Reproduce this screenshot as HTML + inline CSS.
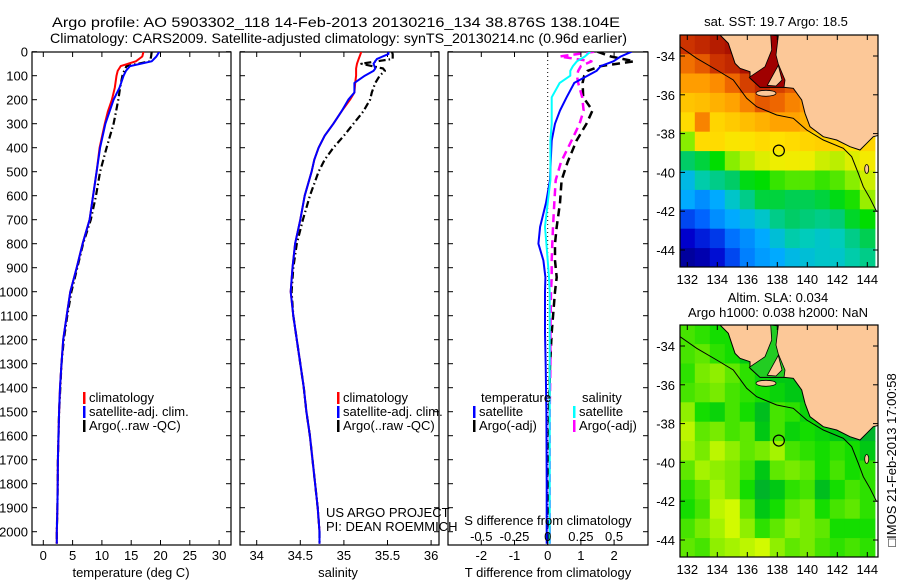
<!DOCTYPE html>
<html><head><meta charset="utf-8"><style>
html,body{margin:0;padding:0;background:#fff;}
svg{display:block;font-family:"Liberation Sans",sans-serif;}
</style></head><body>
<svg id="fig" width="900" height="580" viewBox="0 0 900 580" xmlns="http://www.w3.org/2000/svg">
<defs>
<clipPath id="clipT"><rect x="680" y="35" width="198" height="232"/></clipPath>
<clipPath id="clipB"><rect x="680" y="325" width="198" height="232"/></clipPath>
<clipPath id="clipP1"><rect x="32" y="52" width="199" height="493"/></clipPath>
<clipPath id="clipP2"><rect x="240" y="52" width="199" height="493"/></clipPath>
<clipPath id="clipP3"><rect x="448" y="52" width="200" height="493"/></clipPath>
</defs>
<text x="52" y="27" font-size="14" textLength="568" lengthAdjust="spacingAndGlyphs">Argo profile: AO 5903302_118 14-Feb-2013 20130216_134 38.876S 138.104E</text>
<text x="50" y="43" font-size="14" textLength="577" lengthAdjust="spacingAndGlyphs">Climatology: CARS2009. Satellite-adjusted climatology: synTS_20130214.nc (0.96d earlier)</text>
<g id="g"></g>
</svg>
<script>
// ---------- Profile data ----------
const tDepth = [0,20,40,60,80,100,150,200,250,300,400,500,600,700,800,900,1000,1100,1200,1300,1400,1500,1600,1700,1800,1900,2000,2050];
const tClim  = [17.1,16.9,15.8,13.2,12.7,12.5,12.2,11.7,11.0,10.5,9.6,9.1,8.5,7.9,6.7,5.7,4.6,4.0,3.4,3.1,2.85,2.7,2.6,2.5,2.45,2.4,2.3,2.3];
const tSat   = [19.8,19.3,18.5,14.8,14.1,13.7,13.0,12.0,11.3,10.6,9.7,9.1,8.5,7.9,6.7,5.7,4.6,4.0,3.4,3.1,2.85,2.7,2.6,2.5,2.45,2.4,2.3,2.3];
const tArgo  = [18.5,18.4,18.2,14.2,13.8,13.5,13.1,12.8,12.4,12.0,10.8,9.7,9.0,8.1,6.8,5.8,4.8,4.1,3.5,3.1,2.9,2.7,2.6,2.5,2.45,2.4,2.3,2.3];
const sDepth = [0,10,30,50,70,80,100,130,170,200,250,300,350,400,450,500,600,700,800,900,1000,1100,1200,1300,1400,1500,1600,1700,1800,1900,2000,2050];
const sClim  = [35.20,35.19,35.17,35.15,35.14,35.14,35.14,35.13,35.12,35.07,34.97,34.88,34.78,34.71,34.66,34.63,34.55,34.50,34.44,34.41,34.39,34.42,34.46,34.50,34.54,34.57,34.61,34.64,34.67,34.70,34.72,34.72];
const sSat   = [35.51,35.51,35.38,35.34,35.36,35.34,35.24,35.12,35.12,35.05,34.97,34.88,34.78,34.71,34.66,34.63,34.55,34.50,34.44,34.41,34.39,34.42,34.46,34.50,34.54,34.57,34.61,34.64,34.67,34.70,34.72,34.72];
const sArgo  = [35.55,35.56,35.56,35.20,35.45,35.47,35.41,35.36,35.32,35.30,35.22,35.11,35.00,34.88,34.78,34.71,34.61,34.53,34.46,34.42,34.40,34.42,34.46,34.50,34.54,34.57,34.61,34.64,34.67,34.70,34.72,34.72];
// differences
const dDepth = [0,20,40,60,80,100,130,190,245,300,370,460,535,630,730,800,870,940,1000,1170,1310,1500,1800,2050];
const dTSat  = [2.53,2.2,1.98,1.6,1.47,1.2,0.8,0.57,0.37,0.22,0.12,0.09,0.07,-0.05,-0.23,-0.28,-0.13,-0.07,-0.08,-0.08,-0.06,-0.04,-0.03,-0.03];
const dTArgo = [1.5,1.9,2.6,1.6,1.2,1.1,1.05,1.07,1.35,1.17,0.87,0.6,0.42,0.37,0.27,0.22,0.22,0.27,0.22,0.12,0.07,0.04,0.03,0.02];
const dSSat  = [0.32,0.28,0.22,0.19,0.17,0.17,0.09,0.03,0.03,0.03,0.02,0.02,0.02,0.0,-0.02,-0.01,0.0,0.01,0.015,0.015,0.015,0.015,0.015,0.015];
const dSArgo = [0.35,0.09,0.33,0.25,0.23,0.22,0.23,0.26,0.27,0.24,0.18,0.1,0.06,0.05,0.04,0.035,0.03,0.03,0.025,0.02,0.02,0.015,0.015,0.015];
// ticks
const depthTicks = [0,100,200,300,400,500,600,700,800,900,1000,1100,1200,1300,1400,1500,1600,1700,1800,1900,2000];
const tTicks = [0,5,10,15,20,25,30];
const sTicks = [34,34.5,35,35.5,36];
const dtTicks = [-2,-1,0,1,2];
const dsTicks = [-0.5,-0.25,0,0.25,0.5];
const dsTickLabels = ['-0.5','-0.25','0','0.25','0.5'];
// ---------- Map data (1 degree grid, rows from -33.4 to -44.4, cols lon 132..144) ----------
const mapLons = [132,133,134,135,136,137,138,139,140,141,142,143,144];
const mapLats = [-33.4,-34.4,-35.4,-36.4,-37.4,-38.4,-39.4,-40.4,-41.4,-42.4,-43.4,-44.4];
const sstRows = [
[20.3,20.4,20.5,20.6,20.6,20.8,20.8,20.8,20.8,20.8,20.8,20.8,20.8],
[19.8,20.0,20.3,20.4,20.6,20.8,20.8,20.6,20.4,20.2,20.0,20.0,20.0],
[19.3,19.3,19.5,19.9,20.2,20.4,20.2,20.0,19.8,20.0,20.0,20.0,20.0],
[18.7,18.8,19.0,19.2,19.6,20.0,19.9,19.6,19.4,19.3,19.3,19.3,19.3],
[18.3,19.6,18.4,18.6,18.8,19.0,19.2,19.2,19.0,18.9,18.8,18.6,18.6],
[17.0,18.3,18.3,18.0,18.1,18.3,18.2,18.3,18.4,18.5,18.5,18.2,18.4],
[16.0,16.2,16.5,17.0,17.3,17.5,17.6,17.7,17.6,17.4,17.3,17.5,17.8],
[15.2,15.6,15.8,16.0,16.4,16.5,16.7,16.8,16.8,16.7,16.8,17.0,17.4],
[15.0,14.8,15.0,15.4,15.8,16.2,16.2,16.1,16.1,16.2,16.4,16.6,17.1],
[14.3,14.5,14.8,15.0,15.2,15.4,15.8,16.0,15.9,15.8,15.9,16.3,16.5],
[13.8,14.0,14.2,14.6,14.8,15.0,15.3,15.6,15.5,15.4,15.5,15.8,16.1],
[13.3,13.5,13.9,14.3,14.7,14.9,15.0,15.2,15.3,15.4,15.4,15.6,15.8]];
const slaRows = [
[0.02,0.01,0.00,0.00,-0.02,-0.03,-0.03,-0.03,-0.03,-0.03,-0.03,-0.03,-0.03],
[0.02,0.03,0.01,0.00,-0.02,-0.03,-0.03,-0.03,-0.03,-0.03,-0.03,-0.03,-0.03],
[0.01,0.04,0.05,0.03,0.01,-0.01,-0.02,-0.02,-0.02,-0.02,-0.02,-0.02,-0.02],
[0.02,0.03,0.04,0.02,0.01,0.00,-0.01,-0.02,-0.02,-0.02,-0.02,-0.02,-0.02],
[0.05,0.00,-0.01,0.02,0.00,-0.03,0.02,0.01,-0.01,-0.02,-0.03,-0.03,-0.04],
[0.07,0.03,0.04,0.02,0.03,-0.02,0.02,-0.01,0.00,-0.01,-0.02,-0.03,-0.04],
[0.06,0.04,0.07,0.05,0.03,0.04,0.06,0.02,0.01,0.00,0.01,0.00,-0.02],
[0.03,0.06,0.05,0.04,0.02,-0.02,0.03,0.04,0.03,0.00,0.02,0.00,0.01],
[0.01,0.03,0.06,0.04,0.00,-0.04,-0.02,0.01,0.02,-0.03,0.00,0.02,0.01],
[0.00,0.02,0.07,0.08,0.03,-0.02,0.00,0.03,0.04,0.00,0.02,0.03,0.01],
[0.02,0.04,0.06,0.08,0.05,0.01,0.03,0.05,0.04,0.03,0.00,0.00,0.00],
[0.03,0.02,0.05,0.06,0.07,0.08,0.05,0.03,0.04,0.02,0.01,0.02,0.01]];
const lonTicks = [132,134,136,138,140,142,144];
const latTicks = [-34,-36,-38,-40,-42,-44];
const argoLon = 138.104, argoLat = -38.876;

// ---------- helpers ----------
const NS = 'http://www.w3.org/2000/svg';
const G = document.getElementById('g');
function mk(tag, attrs, parent, text){
  const e = document.createElementNS(NS, tag);
  for (const k in attrs) e.setAttribute(k, attrs[k]);
  if (text !== undefined) e.textContent = text;
  (parent || G).appendChild(e);
  return e;
}
const Y0 = 51.7, YPX = 0.24; // depth scale
const yD = d => Y0 + d * YPX;
const xT = t => 43.3 + t * 5.86;
const xS = s => 256.7 + (s - 34) * 87.2;
const xDT = t => 547.7 + t * 33.2;
const xDS = s => 547.7 + s * 132.8;

function panelBox(x0, x1, name){
  const r = mk('rect', {x:x0, y:52, width:x1-x0, height:493, fill:'none', stroke:'#000', 'stroke-width':1.2});
  
  
  const tg = mk('g', {});
  
  
  depthTicks.forEach(d => {
    mk('line', {x1:x0, x2:x0+5, y1:yD(d), y2:yD(d), stroke:'#000'}, tg);
    mk('line', {x1:x1, x2:x1-5, y1:yD(d), y2:yD(d), stroke:'#000'}, tg);
  });
}
function xTicks(vals, labels, fx, name, yl){
  const tg = mk('g', {});
  
  
  vals.forEach((v, i) => {
    const x = fx(v);
    mk('line', {x1:x, x2:x, y1:545, y2:540, stroke:'#000'}, tg);
    mk('line', {x1:x, x2:x, y1:52, y2:57, stroke:'#000'}, tg);
    mk('text', {x:x, y:yl, 'font-size':13, 'text-anchor':'middle'}, tg, labels[i]);
  });
}
function line(xs, ds, fx, color, w, dash, name, clip){
  const pts = xs.map((v, i) => fx(v).toFixed(1) + ',' + yD(ds[i]).toFixed(1)).join(' ');
  const p = mk('polyline', {points:pts, fill:'none', stroke:color, 'stroke-width':w, 'stroke-linejoin':'round', 'clip-path':'url(#' + clip + ')'});
  if (dash) p.setAttribute('stroke-dasharray', dash);
  
  
}
function legendEntry(x, y, color, label, name){
  const g = mk('g', {});
  
  
  mk('rect', {x:x, y:y-10, width:2.5, height:12, fill:color}, g);
  mk('text', {x:x+6, y:y, 'font-size':13}, g, label);
}

// depth labels
const dl = mk('g', {});


depthTicks.forEach(d => mk('text', {x:28, y:yD(d)+5, 'font-size':13, 'text-anchor':'end'}, dl, String(d)));

// Panel 1: temperature
panelBox(32, 231, 'temperature-panel');
xTicks(tTicks, tTicks.map(String), xT, 'temperature-x-ticks', 560);
mk('text', {x:131, y:577, 'font-size':13, 'text-anchor':'middle',  }, G, 'temperature (deg C)');
line(tArgo, tDepth, xT, '#000', 2.2, '7,3,1.5,3', 'temperature-argo-line', 'clipP1');
line(tClim, tDepth, xT, '#f00', 2, null, 'temperature-climatology-line', 'clipP1');
line(tSat, tDepth, xT, '#00f', 2, null, 'temperature-satellite-line', 'clipP1');
legendEntry(83, 402, '#f00', 'climatology', 'legend-entry-climatology-t');
legendEntry(83, 416, '#00f', 'satellite-adj. clim.', 'legend-entry-satellite-t');
legendEntry(83, 430, '#000', 'Argo(..raw -QC)', 'legend-entry-argo-t');

// Panel 2: salinity
panelBox(240, 439, 'salinity-panel');
xTicks(sTicks, sTicks.map(String), xS, 'salinity-x-ticks', 560);
mk('text', {x:338, y:577, 'font-size':13, 'text-anchor':'middle',  }, G, 'salinity');
line(sArgo, sDepth, xS, '#000', 2.2, '7,3,1.5,3', 'salinity-argo-line', 'clipP2');
line(sClim, sDepth, xS, '#f00', 2, null, 'salinity-climatology-line', 'clipP2');
line(sSat, sDepth, xS, '#00f', 2, null, 'salinity-satellite-line', 'clipP2');
legendEntry(337, 402, '#f00', 'climatology', 'legend-entry-climatology-s');
legendEntry(337, 416, '#00f', 'satellite-adj. clim.', 'legend-entry-satellite-s');
legendEntry(337, 430, '#000', 'Argo(..raw -QC)', 'legend-entry-argo-s');
mk('text', {x:326, y:517, 'font-size':13,  }, G, 'US ARGO PROJECT');
mk('text', {x:326, y:531, 'font-size':13,  }, G, 'PI: DEAN ROEMMICH');

// Panel 3: differences
panelBox(448, 648, 'difference-panel');
const zl = mk('line', {x1:xDT(0), x2:xDT(0), y1:52, y2:545, stroke:'#000', 'stroke-width':1, 'stroke-dasharray':'1,3'});


line(dTArgo, dDepth, xDT, '#000', 2.5, '8,5', 'temp-diff-argo-line', 'clipP3');
line(dSArgo, dDepth, xDS, '#f0f', 2.5, '8,5', 'sal-diff-argo-line', 'clipP3');
line(dTSat, dDepth, xDT, '#00f', 2, null, 'temp-diff-satellite-line', 'clipP3');
line(dSSat, dDepth, xDS, '#0ff', 2, null, 'sal-diff-satellite-line', 'clipP3');
xTicks(dtTicks, dtTicks.map(String), xDT, 'temp-diff-x-ticks', 560);
const sg = mk('g', {});


dsTicks.forEach((v, i) => mk('text', {x:xDS(v), y:541, 'font-size':13, 'text-anchor':'middle'}, sg, dsTickLabels[i]));
mk('text', {x:548, y:525, 'font-size':13, 'text-anchor':'middle',  }, G, 'S difference from climatology');
mk('text', {x:548, y:577, 'font-size':13, 'text-anchor':'middle',  }, G, 'T difference from climatology');
mk('text', {x:481, y:402, 'font-size':13,  }, G, 'temperature');
mk('text', {x:582, y:402, 'font-size':13,  }, G, 'salinity');
legendEntry(473, 416, '#00f', 'satellite', 'legend-entry-temp-satellite');
legendEntry(473, 430, '#000', 'Argo(-adj)', 'legend-entry-temp-argo');
legendEntry(573, 416, '#0ff', 'satellite', 'legend-entry-sal-satellite');
legendEntry(573, 430, '#f0f', 'Argo(-adj)', 'legend-entry-sal-argo');

// ---------- Maps ----------
function interp(stops, v){
  if (v <= stops[0][0]) return 'rgb(' + stops[0][1].join(',') + ')';
  for (let i = 1; i < stops.length; i++){
    if (v <= stops[i][0]){
      const [a, ca] = stops[i-1], [b, cb] = stops[i];
      const f = (v - a) / (b - a);
      const c = ca.map((x, k) => Math.round(x + (cb[k] - x) * f));
      return 'rgb(' + c.join(',') + ')';
    }
  }
  const c = stops[stops.length-1][1]; return 'rgb(' + c.join(',') + ')';
}
const sstStops = [[13.0,[0,0,128]],[13.8,[0,0,204]],[14.5,[0,100,255]],[15.0,[0,170,255]],[15.5,[0,204,187]],[16.0,[0,204,102]],[16.5,[0,221,0]],[17.0,[136,238,0]],[17.6,[238,238,0]],[18.2,[255,225,0]],[18.8,[255,190,0]],[19.4,[255,150,0]],[19.9,[238,102,0]],[20.3,[204,51,0]],[20.6,[170,17,0]],[20.9,[153,0,0]]];
const slaStops = [[-0.05,[0,170,51]],[-0.02,[0,200,20]],[0.0,[20,221,0]],[0.04,[120,235,0]],[0.08,[210,250,0]]];

function drawMap(dy, rows, stops, name, clip, gulfColor){
  const mx = lon => 687.3 + (lon - 132) * 15;
  const my = lat => 56 + dy + (-34 - lat) * 19.4;
  const grp = mk('g', {'clip-path':'url(#' + clip + ')'});
  
  
  rows.forEach((row, r) => row.forEach((v, c) => {
    const x = mx(mapLons[c] - 0.5), y = my(mapLats[r] + 0.5);
    const cell = mk('rect', {x:x.toFixed(1), y:y.toFixed(1), width:15.6, height:20, fill:interp(stops, v)}, grp);
    
    
  }));
  const P = pts => pts.map(p => (650 + p[0]/3).toFixed(1) + ',' + (p[1]/3 + dy).toFixed(1)).join(' ');
  const land = mk('polygon', {points:P([[210,105],[235,130],[255,190],[270,205],[300,215],[300,235],[330,262],[400,262],[430,265],[455,300],[465,340],[480,380],[520,410],[560,420],[600,440],[630,450],[650,430],[670,410],[690,405],[690,100]]), fill:'#fcc898', stroke:'#000', 'stroke-width':1}, grp);
  
  
  const gulf = mk('polygon', {points:P([[362,105],[385,108],[378,165],[385,192],[405,240],[402,262],[330,262],[298,232],[345,200],[365,150]]), fill:gulfColor, stroke:'#000', 'stroke-width':0.8}, grp);
  
  
  mk('polygon', {points:P([[385,196],[396,240],[378,258],[352,256]]), fill:'#fcc898', stroke:'#000', 'stroke-width':0.8}, grp);
  const ki = mk('ellipse', {cx:(650+348/3).toFixed(1), cy:(280/3+dy).toFixed(1), rx:10, ry:3, fill:'#fcc898', stroke:'#000', 'stroke-width':0.8}, grp);
  
  
  mk('ellipse', {cx:(650+650/3).toFixed(1), cy:(507/3+dy).toFixed(1), rx:2, ry:4.5, fill:'#fcc898', stroke:'#000', 'stroke-width':0.8}, grp);
  const iso = mk('polyline', {points:P([[90,140],[140,175],[200,210],[250,240],[290,295],[320,320],[380,345],[430,355],[470,390],[520,420],[580,445],[605,470],[625,520],[640,560],[660,595],[680,635]]), fill:'none', stroke:'#000', 'stroke-width':1}, grp);
  
  
  const c = mk('circle', {cx:mx(argoLon), cy:my(argoLat), r:5.5, fill:'none', stroke:'#000', 'stroke-width':1.2});
  
  
  const box = mk('rect', {x:680, y:35+dy, width:198, height:232, fill:'none', stroke:'#000', 'stroke-width':1.2});
  
  
  const tk = mk('g', {});
  
  
  lonTicks.forEach(l => {
    mk('line', {x1:mx(l), x2:mx(l), y1:267+dy, y2:262+dy, stroke:'#000'}, tk);
    mk('line', {x1:mx(l), x2:mx(l), y1:35+dy, y2:40+dy, stroke:'#000'}, tk);
    mk('text', {x:mx(l), y:284+dy, 'font-size':13, 'text-anchor':'middle'}, tk, String(l));
  });
  latTicks.forEach(l => {
    mk('line', {x1:680, x2:685, y1:my(l), y2:my(l), stroke:'#000'}, tk);
    mk('line', {x1:878, x2:873, y1:my(l), y2:my(l), stroke:'#000'}, tk);
    mk('text', {x:675, y:my(l)+5, 'font-size':13, 'text-anchor':'end'}, tk, String(l));
  });
}
drawMap(0, sstRows, sstStops, 'sst-map', 'clipT', '#a00000');
drawMap(290, slaRows, slaStops, 'sla-map', 'clipB', '#22cc22');
mk('text', {x:776, y:26, 'font-size':13, 'text-anchor':'middle',  }, G, 'sat. SST: 19.7 Argo: 18.5');
mk('text', {x:778, y:302, 'font-size':13, 'text-anchor':'middle',  }, G, 'Altim. SLA: 0.034');
mk('text', {x:778, y:317, 'font-size':13, 'text-anchor':'middle',  }, G, 'Argo h1000: 0.038 h2000: NaN');
mk('text', {x:0, y:0, 'font-size':13, 'text-anchor':'middle', transform:'translate(896,460) rotate(-90)',  }, G, '□IMOS 21-Feb-2013 17:00:58');
</script>
</body></html>
